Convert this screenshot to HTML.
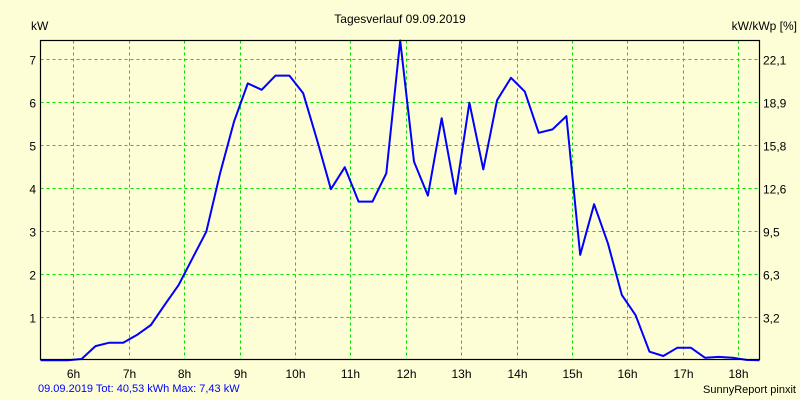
<!DOCTYPE html>
<html><head><meta charset="utf-8"><style>
html,body{margin:0;padding:0;background:#fefed6;}
svg{display:block;font-family:"Liberation Sans",sans-serif;}
</style></head><body>
<svg id="chart" width="800" height="400" xmlns="http://www.w3.org/2000/svg">
<rect x="0" y="0" width="800" height="400" fill="#fefed6"/>
<text x="400" y="23" font-size="12" text-anchor="middle">Tagesverlauf 09.09.2019</text>
<text x="31" y="30" font-size="12">kW</text>
<text x="797" y="30" font-size="12" text-anchor="end">kW/kWp [%]</text>
<g id="grid"></g>
<g id="ticks"></g>
<polyline id="line" fill="none" stroke="#0000ff" stroke-width="2" stroke-linejoin="round"/>
<rect x="40.5" y="40.5" width="719" height="319" fill="none" stroke="#000" stroke-width="1.2"/>
<text x="38" y="392" font-size="11" fill="#0000ff">09.09.2019 Tot: 40,53 kWh Max: 7,43 kW</text>
<text x="796" y="393" font-size="11" text-anchor="end">SunnyReport pinxit</text>
</svg>
<script>
const times = [5.40,5.65,5.90,6.15,6.40,6.65,6.90,7.15,7.40,7.65,7.90,8.15,8.40,8.65,8.90,9.15,9.40,9.65,9.90,10.15,10.40,10.65,10.90,11.15,11.40,11.65,11.90,12.15,12.40,12.65,12.90,13.15,13.40,13.65,13.90,14.15,14.40,14.65,14.90,15.15,15.40,15.65,15.90,16.15,16.40,16.65,16.90,17.15,17.40,17.65,17.90,18.15,18.40];
const power = [0,0,0,0.03,0.33,0.41,0.41,0.59,0.82,1.29,1.75,2.37,2.99,4.35,5.55,6.44,6.29,6.62,6.62,6.21,5.12,3.98,4.49,3.69,3.69,4.35,7.45,4.62,3.83,5.63,3.87,5.99,4.44,6.05,6.57,6.25,5.29,5.37,5.68,2.45,3.63,2.72,1.52,1.05,0.2,0.1,0.29,0.29,0.06,0.08,0.06,0.01,0];
const hourTicks = [6,7,8,9,10,11,12,13,14,15,16,17,18];
const leftTicks = [1,2,3,4,5,6,7];
const rightTickLabels = ["3,2","6,3","9,5","12,6","15,8","18,9","22,1"];

const X0=40.5, X1=759.5, Y0=359.5, Y1=40.5;
const TMIN=5.41, TMAX=18.38, VMAX=7.43;
function xs(t){return 73.3+(t-6)*55.4;}
function ys(v){return 360.3-v*43;}
const NS="http://www.w3.org/2000/svg";
const grid=document.getElementById('grid'), ticks=document.getElementById('ticks');
function mk(tag,attrs,parent){const e=document.createElementNS(NS,tag);for(const k in attrs)e.setAttribute(k,attrs[k]);parent.appendChild(e);return e;}
hourTicks.forEach(h=>{
  const x=Math.round(xs(h))+0.5;
  const l=mk('line',{x1:x,x2:x,y1:Y1,y2:Y0,stroke:'#00e000','stroke-width':1,'stroke-dasharray':'3,3'},grid);
  
  
  const t=mk('text',{x:x,y:378,'font-size':12,'text-anchor':'middle'},ticks);
  t.textContent=h+'h';
  
  
});
leftTicks.forEach((v,i)=>{
  const y=Math.round(ys(v))+0.5;
  const l=mk('line',{x1:X0,x2:X1,y1:y,y2:y,stroke:'#00e000','stroke-width':1,'stroke-dasharray':'3,3'},grid);
  
  
  const t=mk('text',{x:36,y:y+5,'font-size':12,'text-anchor':'end'},ticks);
  t.textContent=v;
  
  
  const r=mk('text',{x:763,y:y+5,'font-size':12},ticks);
  r.textContent=rightTickLabels[i];
  
  
});
const pts=times.map((t,i)=>{
  let x=Math.max(X0,Math.min(X1,xs(t)));
  let y=Math.max(Y1,ys(power[i]));
  return x.toFixed(1)+','+y.toFixed(1);
});
document.getElementById('line').setAttribute('points',pts.join(' '));
</script>
</body></html>
